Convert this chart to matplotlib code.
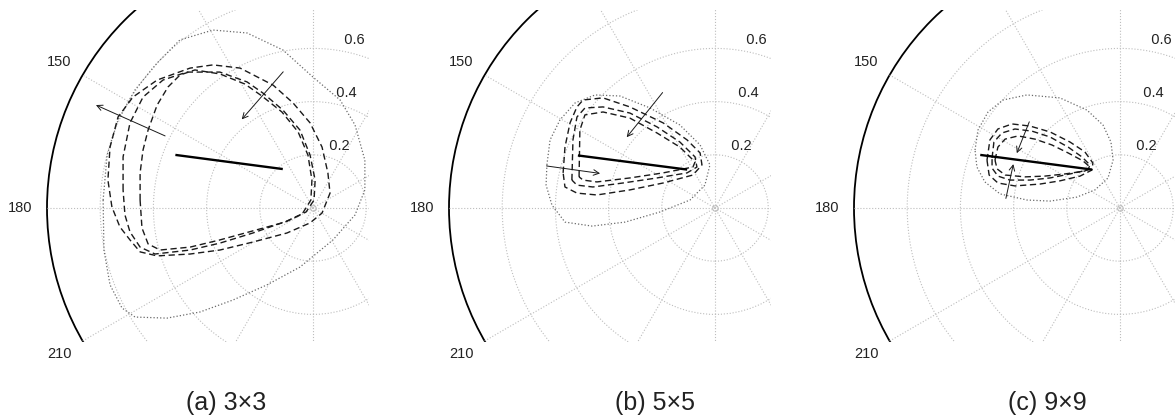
import numpy as np
import matplotlib
matplotlib.use("Agg")
import matplotlib.pyplot as plt
from matplotlib.patches import Circle

plt.rcParams['font.family'] = ['Liberation Sans', 'DejaVu Sans']

# ---- data (complex plane, re/im pairs) ----
panel_titles = ['(a) 3\u00d73', '(b) 5\u00d75', '(c) 9\u00d79']
ring_values = [0.2, 0.4, 0.6, 0.8, 1.0]
spoke_angles = [0, 30, 60, 90, 120, 150]
angle_labels = [150, 180, 210]

# panel (a)
a_dash1 = [(-0.756, 0.004), (-0.771, 0.105), (-0.763, 0.229), (-0.733, 0.342), (-0.677, 0.417),
           (-0.586, 0.481), (-0.462, 0.526), (-0.376, 0.538), (-0.274, 0.526), (-0.150, 0.462),
           (-0.075, 0.395), (-0.011, 0.320), (0.034, 0.229), (0.056, 0.132), (0.064, 0.056),
           (0.034, -0.019), (-0.011, -0.056), (-0.098, -0.094), (-0.226, -0.128), (-0.350, -0.158),
           (-0.462, -0.173), (-0.586, -0.180), (-0.650, -0.165), (-0.688, -0.120), (-0.726, -0.071)]
a_dash2 = [(-0.714, 0.068), (-0.714, 0.192), (-0.688, 0.320), (-0.639, 0.417), (-0.564, 0.481),
           (-0.474, 0.511), (-0.350, 0.511), (-0.248, 0.474), (-0.188, 0.432), (-0.113, 0.368),
           (-0.049, 0.293), (-0.011, 0.199), (0.008, 0.105), (0.004, 0.030), (-0.026, -0.015),
           (-0.098, -0.049), (-0.226, -0.094), (-0.350, -0.132), (-0.462, -0.158), (-0.594, -0.173),
           (-0.650, -0.147), (-0.688, -0.090), (-0.707, -0.026)]
a_dash3 = [(-0.650, 0.030), (-0.650, 0.132), (-0.639, 0.218), (-0.620, 0.293), (-0.586, 0.387),
           (-0.545, 0.455), (-0.500, 0.500), (-0.444, 0.519), (-0.350, 0.504), (-0.256, 0.466),
           (-0.192, 0.421), (-0.117, 0.361), (-0.056, 0.286), (-0.019, 0.199), (-0.004, 0.105),
           (-0.008, 0.030), (-0.041, -0.023), (-0.105, -0.053), (-0.226, -0.086), (-0.350, -0.120),
           (-0.462, -0.147), (-0.575, -0.158), (-0.620, -0.135), (-0.643, -0.075)]
a_dot = [(-0.789, 0.030), (-0.786, -0.158), (-0.763, -0.289), (-0.718, -0.376), (-0.669, -0.410),
         (-0.549, -0.414), (-0.425, -0.391), (-0.301, -0.346), (-0.173, -0.289), (-0.049, -0.222),
         (0.075, -0.120), (0.158, -0.026), (0.195, 0.068), (0.195, 0.180), (0.158, 0.312),
         (0.102, 0.406), (0.000, 0.492), (-0.113, 0.594), (-0.248, 0.658), (-0.376, 0.669),
         (-0.500, 0.632), (-0.586, 0.545), (-0.669, 0.444), (-0.733, 0.331), (-0.774, 0.199)]
a_seg = [(-0.513, 0.199), (-0.118, 0.147)]
a_arrows = [((-0.556, 0.271), (-0.816, 0.387)), ((-0.112, 0.512), (-0.268, 0.333))]

# panel (b)
b_dash1 = [(-0.571, 0.132), (-0.564, 0.229), (-0.545, 0.320), (-0.519, 0.380), (-0.496, 0.406),
           (-0.421, 0.414), (-0.320, 0.380), (-0.195, 0.320), (-0.105, 0.256), (-0.056, 0.207),
           (-0.049, 0.162), (-0.083, 0.124), (-0.195, 0.094), (-0.320, 0.068), (-0.444, 0.049),
           (-0.519, 0.056), (-0.564, 0.079)]
b_dash2 = [(-0.538, 0.105), (-0.534, 0.256), (-0.519, 0.342), (-0.489, 0.376), (-0.421, 0.380),
           (-0.320, 0.357), (-0.218, 0.305), (-0.132, 0.248), (-0.075, 0.192), (-0.068, 0.154),
           (-0.105, 0.132), (-0.218, 0.113), (-0.346, 0.094), (-0.459, 0.079), (-0.519, 0.086)]
b_dash3 = [(-0.511, 0.117), (-0.508, 0.293), (-0.489, 0.350), (-0.421, 0.361), (-0.320, 0.338),
           (-0.218, 0.282), (-0.132, 0.229), (-0.075, 0.173), (-0.083, 0.154), (-0.195, 0.132),
           (-0.320, 0.113), (-0.444, 0.098), (-0.496, 0.105)]
b_dot = [(-0.632, 0.162), (-0.620, 0.256), (-0.583, 0.331), (-0.526, 0.395), (-0.451, 0.425),
         (-0.357, 0.421), (-0.244, 0.376), (-0.132, 0.312), (-0.056, 0.237), (-0.019, 0.162),
         (-0.038, 0.086), (-0.094, 0.030), (-0.207, -0.015), (-0.338, -0.053), (-0.462, -0.068),
         (-0.564, -0.053), (-0.613, 0.011), (-0.635, 0.086)]
b_seg = [(-0.511, 0.197), (-0.109, 0.145)]
b_arrows = [((-0.633, 0.158), (-0.432, 0.130)), ((-0.197, 0.434), (-0.332, 0.266))]

# panel (c)
c_dash1 = [(-0.500, 0.180), (-0.489, 0.256), (-0.459, 0.297), (-0.406, 0.316), (-0.338, 0.308),
           (-0.263, 0.286), (-0.188, 0.248), (-0.132, 0.211), (-0.102, 0.169), (-0.105, 0.143),
           (-0.150, 0.120), (-0.226, 0.102), (-0.301, 0.090), (-0.395, 0.083), (-0.459, 0.094),
           (-0.492, 0.124)]
c_dash2 = [(-0.481, 0.188), (-0.474, 0.248), (-0.444, 0.282), (-0.395, 0.297), (-0.331, 0.289),
           (-0.263, 0.267), (-0.195, 0.229), (-0.143, 0.192), (-0.113, 0.162), (-0.120, 0.143),
           (-0.188, 0.128), (-0.263, 0.113), (-0.338, 0.105), (-0.414, 0.105), (-0.459, 0.120),
           (-0.481, 0.150)]
c_dash3 = [(-0.470, 0.180), (-0.459, 0.229), (-0.432, 0.259), (-0.383, 0.271), (-0.320, 0.259),
           (-0.256, 0.237), (-0.195, 0.207), (-0.139, 0.177), (-0.113, 0.154), (-0.132, 0.139),
           (-0.207, 0.128), (-0.282, 0.120), (-0.357, 0.117), (-0.432, 0.124), (-0.462, 0.147)]
c_dot = [(-0.545, 0.218), (-0.534, 0.293), (-0.496, 0.361), (-0.440, 0.406), (-0.350, 0.425),
         (-0.226, 0.414), (-0.124, 0.368), (-0.064, 0.312), (-0.034, 0.248), (-0.026, 0.180),
         (-0.045, 0.113), (-0.094, 0.068), (-0.162, 0.041), (-0.263, 0.026), (-0.350, 0.030),
         (-0.451, 0.053), (-0.508, 0.098), (-0.538, 0.154)]
c_seg = [(-0.521, 0.199), (-0.109, 0.145)]
c_arrows = [((-0.341, 0.324), (-0.388, 0.206)), ((-0.429, 0.036), (-0.401, 0.165))]

panels = [
    (a_dash1, a_dash2, a_dash3, a_dot, a_seg, a_arrows),
    (b_dash1, b_dash2, b_dash3, b_dot, b_seg, b_arrows),
    (c_dash1, c_dash2, c_dash3, c_dot, c_seg, c_arrows),
]

# ---- layout (pixels) ----
W, H = 1175, 419
S = 266.0                      # pixels per unit radius
centers_x = [313, 715, 1120]
center_y = 208
title_x = [226, 655, 1047]
XLIM = (-1.01, 0.21)
YLIM = (-0.504, 0.745)

GRID = '#bdbdbd'

fig = plt.figure(figsize=(W / 100, H / 100), dpi=100)


def closed(pts):
    pts = list(pts) + [pts[0]]
    return [p[0] for p in pts], [p[1] for p in pts]


for i, (d1, d2, d3, dot, seg, arrows) in enumerate(panels):
    cx = centers_x[i]
    left = (cx + XLIM[0] * S) / W
    bottom = (H - (center_y - YLIM[0] * S)) / H
    ax = fig.add_axes([left, bottom, (XLIM[1] - XLIM[0]) * S / W, (YLIM[1] - YLIM[0]) * S / H])
    ax.set_xlim(*XLIM)
    ax.set_ylim(*YLIM)
    ax.axis('off')

    # polar grid
    for r in ring_values[:-1]:
        ax.add_patch(Circle((0, 0), r, fill=False, ec=GRID, ls=':', lw=0.8))
    ax.add_patch(Circle((0, 0), ring_values[-1], fill=False, ec='black', lw=1.3))
    for ang in spoke_angles:
        t = np.deg2rad(ang)
        ax.plot([-np.cos(t), np.cos(t)], [-np.sin(t), np.sin(t)], ls=':', color=GRID, lw=0.8)
    ax.plot([0], [0], 'o', ms=4, mfc='none', mec=GRID, mew=0.7)

    # radial labels
    t82 = np.deg2rad(82)
    for r in ring_values:
        lx, ly = (r + 0.01) * np.cos(t82), (r + 0.01) * np.sin(t82)
        if ly < YLIM[1] - 0.05:
            ax.text(lx, ly, '  %g' % r, ha='left', va='bottom', fontsize=10.5, color='#222222')
    # angle labels
    for ang in angle_labels:
        t = np.deg2rad(ang)
        ax.text(1.1 * np.cos(t), 1.1 * np.sin(t), str(ang), ha='center', va='center',
                fontsize=10.5, color='#222222', clip_on=False)

    # curves
    x, y = closed(dot)
    ax.plot(x, y, ls=':', color='#6a6a6a', lw=0.9)
    for d in (d1, d2, d3):
        x, y = closed(d)
        ax.plot(x, y, color='#1a1a1a', lw=1.0, dashes=(4.5, 2.6))
    ax.plot([seg[0][0], seg[1][0]], [seg[0][1], seg[1][1]], color='black', lw=1.7)
    for tail, head in arrows:
        ax.annotate('', xy=head, xytext=tail,
                    arrowprops=dict(arrowstyle='->', color='#1a1a1a', lw=0.7,
                                    mutation_scale=10, shrinkA=0, shrinkB=0))

    fig.text(title_x[i] / W, 1 - 403 / H, panel_titles[i], ha='center', va='center',
             fontsize=18, color='#222222')

fig.savefig('out.png', dpi=100)
